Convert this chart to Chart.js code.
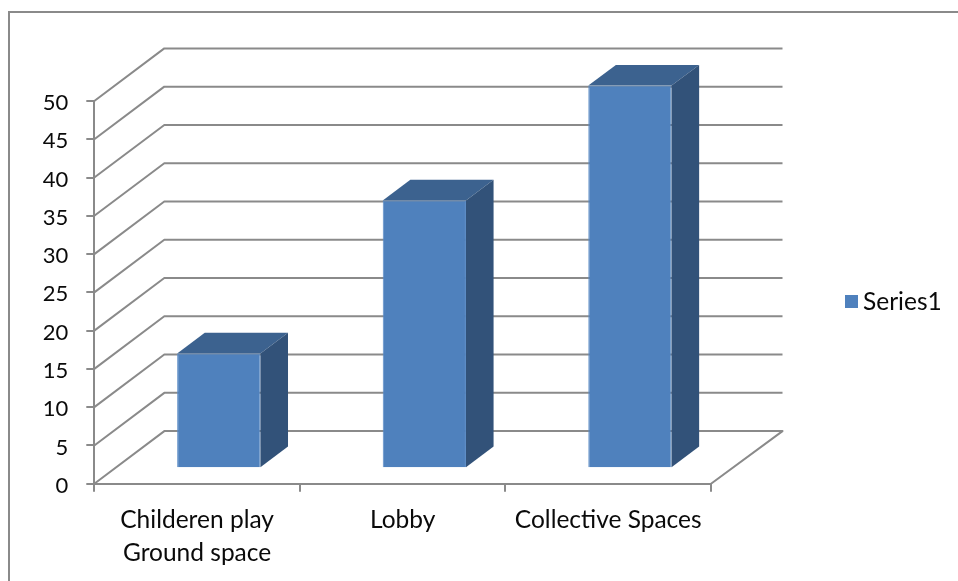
<!DOCTYPE html>
<html>
<head>
<meta charset="utf-8">
<title>Series1</title>
<script src="https://cdn.jsdelivr.net/npm/chart.js@4/dist/chart.umd.min.js"></script>
<style>
  html, body { margin: 0; padding: 0; background: #fff; overflow: hidden; }
  #frame { position: absolute; left: 8px; top: 11px; width: 1000px; height: 1000px; border: 2px solid #8a8a8a; }
  #scoreChart { position: absolute; left: 0; top: 0; }
</style>
</head>
<body>
<div id="frame"></div>
<canvas id="scoreChart" width="958" height="581"></canvas>
<script>
// Données du graphique
const categories = [["Childeren play", "Ground space"], "Lobby", "Collective Spaces"];
const seriesName = "Series1";
const seriesValues = [15, 35, 50];
const yTicks = [0, 5, 10, 15, 20, 25, 30, 35, 40, 45, 50];

const FONT = "Lato, Carlito, sans-serif";
const AXIS_COLOR = "#8a8a8a";
const TEXT_COLOR = "#0a0a0a";

// Profondeur du "mur" du fond et décalage des barres
const wall = { left: 70, right: 71.5, up: 52.6 };
const barGap = { x: 21.7, y: -15.4 };
const barDepth = { x: 27.6, y: -20.7 };

// Mur + sol en fausse 3D, dessinés avant les barres
const wallPlugin = {
  id: "wall",
  beforeDatasetsDraw(chart) {
    const { ctx, scales } = chart;
    const x0 = scales.x.left, x1 = scales.x.right;
    ctx.save();
    ctx.strokeStyle = AXIS_COLOR;
    ctx.lineWidth = 2;
    ctx.lineJoin = "round";
    yTicks.forEach((v) => {
      const y = scales.y.getPixelForValue(v);
      ctx.beginPath();
      ctx.moveTo(x0, y);
      ctx.lineTo(x0 + wall.left, y - wall.up);
      ctx.lineTo(x1 + wall.right, y - wall.up);
      if (v === 0) ctx.lineTo(x1, y);
      ctx.stroke();
    });
    ctx.restore();
    // les barres sont décalées vers le fond
    ctx.save();
    ctx.translate(barGap.x, barGap.y);
  },
  afterDatasetsDraw(chart) {
    const { ctx } = chart;
    chart.getDatasetMeta(0).data.forEach((bar) => {
      const left = bar.x - bar.width / 2;
      const right = bar.x + bar.width / 2;
      // Face du dessus
      ctx.beginPath();
      ctx.moveTo(left, bar.y);
      ctx.lineTo(left + barDepth.x, bar.y + barDepth.y);
      ctx.lineTo(right + barDepth.x, bar.y + barDepth.y);
      ctx.lineTo(right, bar.y);
      ctx.closePath();
      ctx.fillStyle = "#3c628f";
      ctx.fill();
      // Face de droite
      ctx.beginPath();
      ctx.moveTo(right, bar.y);
      ctx.lineTo(right + barDepth.x, bar.y + barDepth.y);
      ctx.lineTo(right + barDepth.x, bar.base + barDepth.y);
      ctx.lineTo(right, bar.base);
      ctx.closePath();
      ctx.fillStyle = "#325279";
      ctx.fill();
    });
    ctx.restore();
  },
};

// Légende à droite : carré + nom de la série
const legendPlugin = {
  id: "sideLegend",
  afterDraw(chart) {
    const { ctx } = chart;
    ctx.save();
    ctx.fillStyle = chart.data.datasets[0].backgroundColor;
    ctx.fillRect(845, 295, 13, 13);
    ctx.fillStyle = TEXT_COLOR;
    ctx.font = "24.5px " + FONT;
    ctx.textBaseline = "middle";
    ctx.fillText(chart.data.datasets[0].label, 863, 302);
    ctx.restore();
  },
};

const ctx = document.getElementById("scoreChart").getContext("2d");
new Chart(ctx, {
  type: "bar",
  data: {
    labels: categories,
    datasets: [
      {
        label: seriesName,
        data: seriesValues,
        backgroundColor: "#4f81bd",
        borderColor: "#5b8cc6",
        borderWidth: 1,
        barPercentage: 0.405,
        categoryPercentage: 1,
      },
    ],
  },
  options: {
    responsive: false,
    animation: false,
    layout: { padding: { left: 0, top: 101, right: 247, bottom: 0 } },
    plugins: { legend: { display: false }, tooltip: { enabled: false } },
    scales: {
      x: {
        afterFit(scale) { scale.height = 97.3; },
        grid: { drawOnChartArea: false, color: AXIS_COLOR, lineWidth: 2, tickLength: 8 },
        border: { color: AXIS_COLOR, width: 2 },
        ticks: {
          color: TEXT_COLOR,
          font: { family: FONT, size: 24.5, lineHeight: 1.35 },
          padding: 12,
          maxRotation: 0,
          autoSkip: false,
        },
      },
      y: {
        min: 0,
        max: 50,
        afterFit(scale) { scale.width = 94.3; },
        grid: { drawOnChartArea: false, color: AXIS_COLOR, lineWidth: 2, tickLength: 8 },
        border: { color: AXIS_COLOR, width: 2 },
        ticks: {
          stepSize: 5,
          color: TEXT_COLOR,
          font: { family: FONT, size: 22 },
          padding: 18,
          labelOffset: 2,
        },
      },
    },
  },
  plugins: [wallPlugin, legendPlugin],
});
</script>
</body>
</html>
